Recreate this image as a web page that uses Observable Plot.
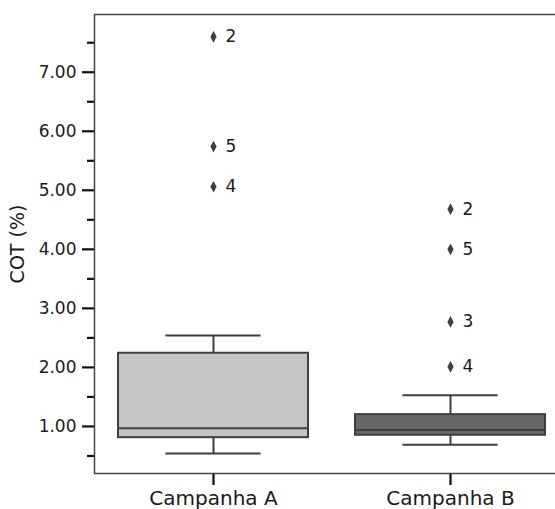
<!DOCTYPE html>
<html>
<head>
<meta charset="utf-8">
<script src="https://cdn.jsdelivr.net/npm/d3@7"></script>
<script src="https://cdn.jsdelivr.net/npm/@observablehq/plot@0.6"></script>
<style>
  html, body { margin: 0; padding: 0; background: #fff; overflow: hidden; }
  svg { display: block; }
</style>
</head>
<body>
<div id="chart"></div>
<script>
// ---- data ----
const categories = ["Campanha A", "Campanha B"];
const q1 = [0.81, 0.85];
const median = [0.97, 0.94];
const q3 = [2.24, 1.20];
const whiskerLow = [0.54, 0.69];
const whiskerHigh = [2.54, 1.53];
const boxFill = ["#c4c4c4", "#676767"];

const outlierCategory = ["Campanha A", "Campanha A", "Campanha A", "Campanha B", "Campanha B", "Campanha B", "Campanha B"];
const outlierValue = [7.60, 5.74, 5.06, 4.68, 4.00, 2.77, 2.01];
const outlierLabel = ["2", "5", "4", "2", "5", "3", "4"];

const yTicks = [1, 2, 3, 4, 5, 6, 7];
const yMinorTicks = [0.5, 1.5, 2.5, 3.5, 4.5, 5.5, 6.5, 7.5];

// ---- tables built from the arrays ----
const boxes = categories.map((c, i) => ({
  cat: c, q1: q1[i], med: median[i], q3: q3[i], lo: whiskerLow[i], hi: whiskerHigh[i], fill: boxFill[i]
}));
const outliers = outlierValue.map((v, i) => ({cat: outlierCategory[i], v, label: outlierLabel[i]}));

const thinDiamond = {
  draw(context, size) {
    const r = Math.sqrt(size / Math.PI);
    const h = r * 1.3, w = r * 0.7;
    context.moveTo(0, -h);
    context.lineTo(w, 0);
    context.lineTo(0, h);
    context.lineTo(-w, 0);
    context.closePath();
  }
};

const edge = "#3f3f3f";
const font = "DejaVu Sans, sans-serif";

const chart = Plot.plot({
  width: 555,
  height: 509,
  marginLeft: 94,
  marginRight: -13,
  marginTop: 14,
  marginBottom: 36,
  style: {fontFamily: font, color: "#262626", background: "#fff"},
  x: {type: "band", domain: categories, paddingInner: 0.2, paddingOuter: 0.1, axis: null},
  y: {domain: [0.203, 7.978], axis: null},
  marks: [
    // whiskers
    Plot.ruleX(boxes, {x: "cat", y1: "q3", y2: "hi", stroke: edge, strokeWidth: 2}),
    Plot.ruleX(boxes, {x: "cat", y1: "q1", y2: "lo", stroke: edge, strokeWidth: 2}),
    Plot.tickY(boxes, {x: "cat", y: "hi", stroke: edge, strokeWidth: 2, insetLeft: 47.4, insetRight: 47.4}),
    Plot.tickY(boxes, {x: "cat", y: "lo", stroke: edge, strokeWidth: 2, insetLeft: 47.4, insetRight: 47.4}),
    // boxes
    Plot.barY(boxes, {x: "cat", y1: "q1", y2: "q3", fill: d => d.fill, stroke: edge, strokeWidth: 2}),
    Plot.tickY(boxes, {x: "cat", y: "med", stroke: edge, strokeWidth: 2}),
    // outliers
    Plot.dot(outliers, {x: "cat", y: "v", symbol: thinDiamond, r: 4.5, fill: edge, stroke: "none"}),
    Plot.text(outliers, {x: "cat", y: "v", text: "label", dx: 12, textAnchor: "start", lineAnchor: "middle", fontSize: 17, fill: "#1a1a1a"}),
    // axes
    Plot.axisY({ticks: yTicks, tickFormat: d3.format(".2f"), tickSize: 12, tickPadding: 6, strokeWidth: 2.2, stroke: "#111", fontSize: 17, fill: "#1a1a1a", label: null}),
    Plot.axisY({ticks: yMinorTicks, tickFormat: () => "", tickSize: 7, strokeWidth: 2.2, stroke: "#111", label: null}),
    Plot.axisY({ticks: [], label: "COT (%)", labelAnchor: "center", labelArrow: "none", labelOffset: 84, fontSize: 19, fill: "#1a1a1a"}),
    Plot.axisX({tickSize: 12, tickPadding: 5, strokeWidth: 2.2, stroke: "#111", fontSize: 20, fill: "#1a1a1a", label: null}),
    Plot.frame({stroke: "#444", strokeWidth: 1.5})
  ]
});
document.getElementById("chart").appendChild(chart);
</script>
</body>
</html>
